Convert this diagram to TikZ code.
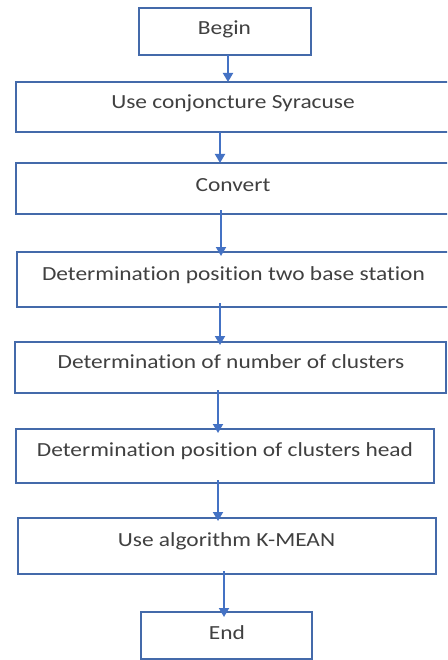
\documentclass[tikz,border=0pt]{standalone}
\usepackage{fontspec}
\setmainfont{Carlito}[FakeStretch=1.17,Ligatures=NoCommon]
\usetikzlibrary{arrows.meta}
\definecolor{boxline}{RGB}{68,106,170}
\definecolor{arrowc}{RGB}{68,114,196}
\definecolor{txt}{RGB}{64,64,64}
\begin{document}
\begin{tikzpicture}[x=1pt,y=-1pt,
  box/.style={draw=boxline, line width=1.8pt, inner sep=0pt, outer sep=0pt, rectangle},
  lbl/.style={anchor=base, inner sep=0pt, text=txt, font=\fontsize{20}{24}\selectfont},
  arr/.style={draw=arrowc, line width=1.8pt, -{Triangle[width=10pt,length=9pt]}}]
\useasboundingbox (0,0) rectangle (447,660);
\clip (0,0) rectangle (447,660);
\node[box, minimum width=172, minimum height=47] (b1) at (225,31.5) {};
\node[box, minimum width=444, minimum height=50] (b2) at (238,107) {};
\node[box, minimum width=444, minimum height=51] (b3) at (238,188.5) {};
\node[box, minimum width=443, minimum height=55] (b4) at (238.5,279.5) {};
\node[box, minimum width=431, minimum height=51] (b5) at (230.5,367.5) {};
\node[box, minimum width=418, minimum height=54] (b6) at (225,456) {};
\node[box, minimum width=418, minimum height=56] (b7) at (227,546) {};
\node[box, minimum width=171, minimum height=47] (b8) at (226.5,635.5) {};
\node[lbl] (t1) at (224.5,35) {Begin};
\node[lbl] (t2) at (233,109) {Use conjoncture Syracuse};
\node[lbl] (t3) at (233,192) {Convert};
\node[lbl] (t4) at (233.5,280) {Determination position two base station};
\node[lbl] (t5) at (231,368) {Determination of number of clusters};
\node[lbl] (t6) at (225,456) {Determination position of clusters head};
\node[lbl] (t7) at (226.5,546) {Use algorithm K-MEAN};
\node[lbl] (t8) at (227,639) {End};
\coordinate (a1) at (228,0);
\coordinate (a2) at (220,0);
\coordinate (a3) at (221,0);
\coordinate (a4) at (220,0);
\coordinate (a5) at (218,0);
\coordinate (a6) at (218,0);
\coordinate (a7) at (224,0);
\draw[arr] (b1.south -| a1) -- (b2.north -| a1);
\draw[arr] (b2.south -| a2) -- (b3.north -| a2);
\draw[arr] ([yshift=4]b3.south -| a3) -- ([yshift=-4]b4.north -| a3);
\draw[arr] ([yshift=4]b4.south -| a4) -- ([yshift=-3]b5.north -| a4);
\draw[arr] ([yshift=3]b5.south -| a5) -- ([yshift=-4]b6.north -| a5);
\draw[arr] ([yshift=3]b6.south -| a6) -- ([yshift=-3]b7.north -| a6);
\draw[arr] ([yshift=3]b7.south -| a7) -- ([yshift=-5]b8.north -| a7);
\end{tikzpicture}
\end{document}
